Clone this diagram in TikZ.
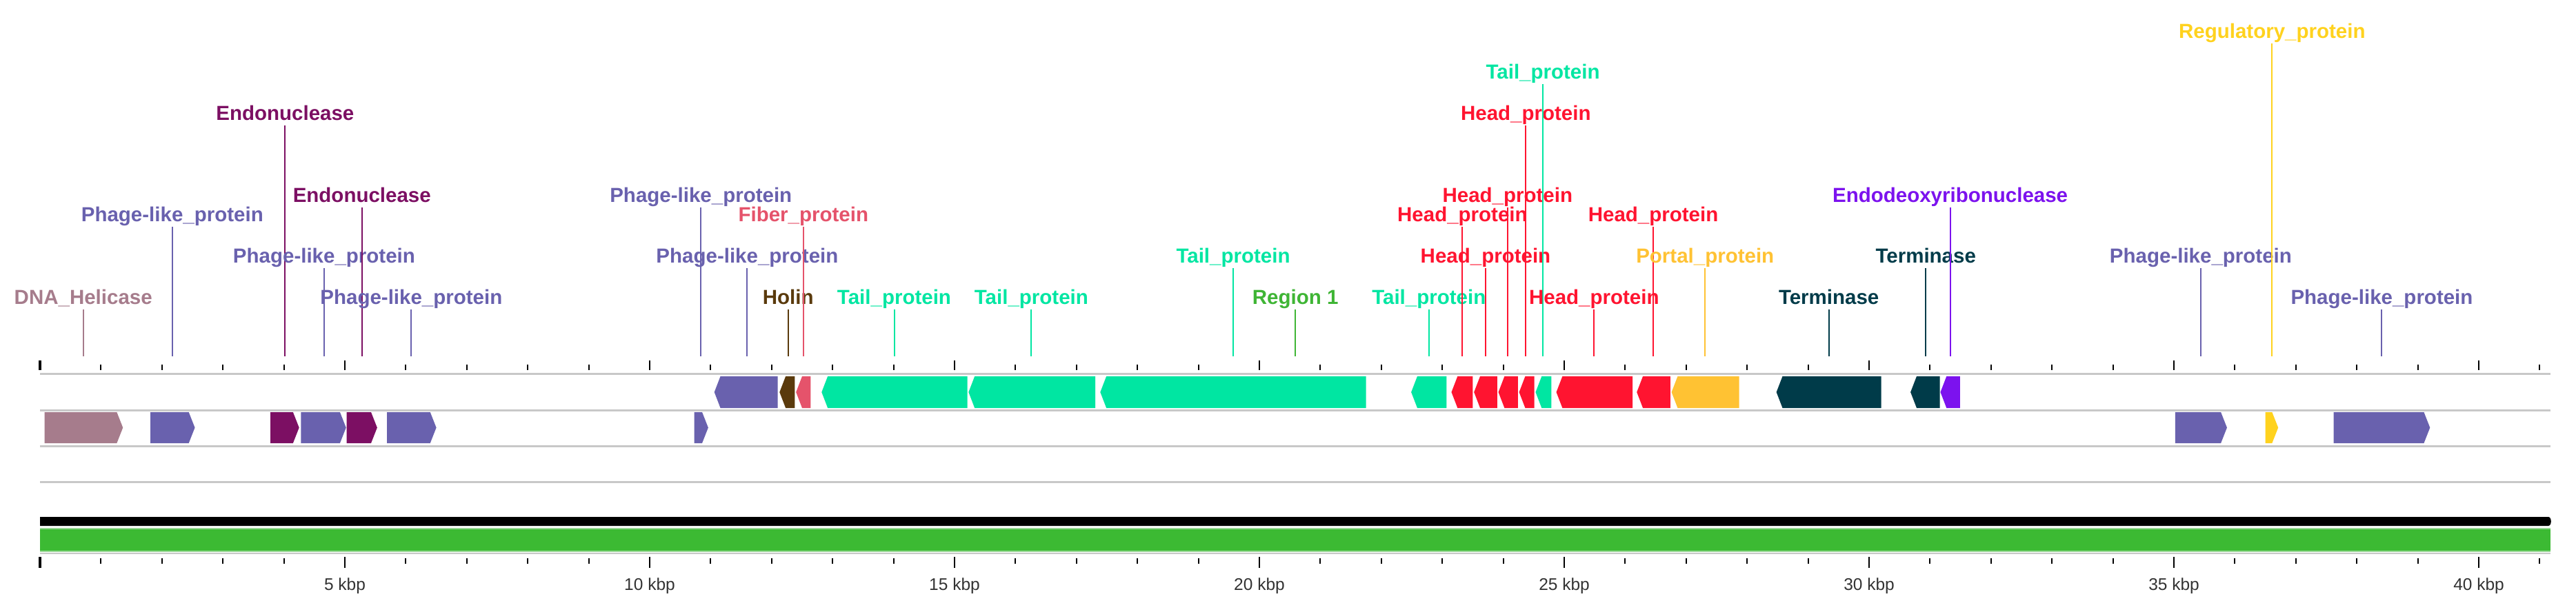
\documentclass[tikz,border=0pt]{standalone}
\usepackage{fontspec}
\setmainfont{Liberation Sans}
\definecolor{helicase}{HTML}{A67C8C}
\definecolor{phage}{HTML}{6961AE}
\definecolor{endo}{HTML}{7C0F63}
\definecolor{holin}{HTML}{5A3A0C}
\definecolor{fiber}{HTML}{E5536B}
\definecolor{tail}{HTML}{00E6A2}
\definecolor{region}{HTML}{3FB535}
\definecolor{head}{HTML}{FF1430}
\definecolor{portal}{HTML}{FFC233}
\definecolor{term}{HTML}{003B49}
\definecolor{endodeoxy}{HTML}{7C12EE}
\definecolor{regul}{HTML}{FFD21E}
\definecolor{greenbar}{HTML}{3CBA33}
\definecolor{greenedge}{HTML}{9AD896}
\definecolor{trackgray}{HTML}{C8C8C8}
\definecolor{axisgray}{HTML}{333333}
% forward gene (bottom row)
\newcommand\fwdgene[3]{\fill[#3] (#1,598) -- ({#2-0.1},598) -- (#2,620.5) -- ({#2-0.1},643) -- (#1,643) -- cycle;}
% reverse gene (top row)
\newcommand\revgene[3]{\fill[#3] (#1,569) -- ({#1+0.1},546) -- (#2,546) -- (#2,592) -- ({#1+0.1},592) -- cycle;}
% label with connector
\newcommand\mkgl[5]{%
  \node[lbl, text=#4] (#1) at (#2,#3) {#5};
  \coordinate (#1e) at (#2,517);
  \draw[conn, #4] (#1.south) -- (#1e);}
\begin{document}
\begin{tikzpicture}[x=44.2pt,y=-0.5pt,
  lbl/.style={font=\fontsize{14.75}{16}\selectfont\bfseries, inner sep=0pt, text height=11pt, text depth=3.7pt},
  conn/.style={line width=1pt},
  axlbl/.style={font=\fontsize{12.25}{14}\selectfont, text=axisgray, inner sep=0pt},
  trackline/.style={draw=trackgray, line width=1.5pt},
  minortick/.style={line width=1pt},
  majortick/.style={line width=1.4pt}]
\fill[white] (-0.65611,0) rectangle (41.595,888);
\useasboundingbox (-0.65611,0) rectangle (41.595,888);

% track lines
\foreach \yy in {542,595,647,699} \draw[trackline] (0,\yy) -- (41.18,\yy);

% ticks
\foreach \k in {1,...,41} {
  \draw[minortick] (\k,529) -- (\k,537);
  \draw[minortick] (\k,810) -- (\k,818);
}
\foreach \k in {5,10,...,40} {
  \draw[majortick] (\k,523) -- (\k,537);
  \draw[majortick] (\k,808) -- (\k,824);
}
\draw[line width=2pt] (0,523) -- (0,537);
\draw[line width=2pt] (0,808) -- (0,824);

% axis labels
\foreach \k in {5,10,...,40} \node[axlbl] (ax\k) at (\k,850) {\k\ kbp};

% region bars
\fill[black] (0,750) -- (41.14,750) .. controls (41.2,750) and (41.2,763) .. (41.14,763) -- (0,763) -- cycle;
\fill[greenbar] (0,766) rectangle (41.18,801);
\draw[greenedge, line width=0.8pt] (0,767) -- (41.18,767);
\draw[greenedge, line width=0.8pt] (0,800) -- (41.18,800);
\draw[trackgray, line width=1pt] (0,803) -- (41.18,803);

% forward genes
\fwdgene{0.075}{1.36}{helicase}
\fwdgene{1.81}{2.54}{phage}
\fwdgene{3.78}{4.25}{endo}
\fwdgene{4.28}{5.02}{phage}
\fwdgene{5.03}{5.53}{endo}
\fwdgene{5.69}{6.50}{phage}
\fwdgene{10.73}{10.96}{phage}
\fwdgene{35.02}{35.87}{phage}
\fwdgene{36.50}{36.71}{regul}
\fwdgene{37.62}{39.20}{phage}

% reverse genes
\revgene{11.06}{12.10}{phage}
\revgene{12.13}{12.38}{holin}
\revgene{12.40}{12.64}{fiber}
\revgene{12.82}{15.21}{tail}
\revgene{15.23}{17.31}{tail}
\revgene{17.39}{21.75}{tail}
\revgene{22.49}{23.07}{tail}
\revgene{23.15}{23.50}{head}
\revgene{23.52}{23.90}{head}
\revgene{23.92}{24.24}{head}
\revgene{24.26}{24.51}{head}
\revgene{24.53}{24.79}{tail}
\revgene{24.87}{26.12}{head}
\revgene{26.19}{26.74}{head}
\revgene{26.76}{27.87}{portal}
\revgene{28.48}{30.20}{term}
\revgene{30.68}{31.16}{term}
\revgene{31.17}{31.49}{endodeoxy}

% labels
\mkgl{l1}{0.71}{434}{helicase}{DNA\_Helicase}
\mkgl{l2}{2.17}{314}{phage}{Phage-like\_protein}
\mkgl{l3}{4.02}{167}{endo}{Endonuclease}
\mkgl{l4}{4.66}{374}{phage}{Phage-like\_protein}
\mkgl{l5}{5.28}{286}{endo}{Endonuclease}
\mkgl{l6}{6.09}{434}{phage}{Phage-like\_protein}
\mkgl{l7}{10.84}{286}{phage}{Phage-like\_protein}
\mkgl{l8}{11.60}{374}{phage}{Phage-like\_protein}
\mkgl{l9}{12.27}{434}{holin}{Holin}
\mkgl{l10}{12.52}{314}{fiber}{Fiber\_protein}
\mkgl{l11}{14.01}{434}{tail}{Tail\_protein}
\mkgl{l12}{16.26}{434}{tail}{Tail\_protein}
\mkgl{l13}{19.57}{374}{tail}{Tail\_protein}
\mkgl{l14}{20.59}{434}{region}{Region 1}
\mkgl{l15}{22.78}{434}{tail}{Tail\_protein}
\mkgl{l16}{23.33}{314}{head}{Head\_protein}
\mkgl{l17}{23.71}{374}{head}{Head\_protein}
\mkgl{l18}{24.07}{286}{head}{Head\_protein}
\mkgl{l19}{24.37}{167}{head}{Head\_protein}
\mkgl{l20}{24.65}{107}{tail}{Tail\_protein}
\mkgl{l21}{25.49}{434}{head}{Head\_protein}
\mkgl{l22}{26.46}{314}{head}{Head\_protein}
\mkgl{l23}{27.31}{374}{portal}{Portal\_protein}
\mkgl{l24}{29.34}{434}{term}{Terminase}
\mkgl{l25}{30.93}{374}{term}{Terminase}
\mkgl{l26}{31.33}{286}{endodeoxy}{Endodeoxyribonuclease}
\mkgl{l27}{35.44}{374}{phage}{Phage-like\_protein}
\mkgl{l28}{36.61}{48}{regul}{Regulatory\_protein}
\mkgl{l29}{38.41}{434}{phage}{Phage-like\_protein}
\end{tikzpicture}
\end{document}
